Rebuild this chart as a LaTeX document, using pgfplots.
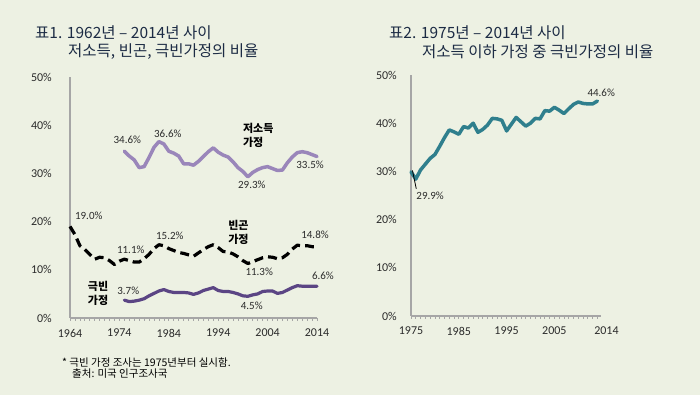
\documentclass[border=0pt]{standalone}
\usepackage{fontspec}
\setmainfont{Carlito}
\newfontfamily\kr{Noto Sans CJK KR}
\usepackage{pgfplots}
\pgfplotsset{compat=1.18}
\definecolor{bg}{HTML}{EDF1E3}
\definecolor{lowc}{HTML}{9A86BA}
\definecolor{deepc}{HTML}{5B4584}
\definecolor{tealc}{HTML}{2F7F8D}
\definecolor{axc}{HTML}{A6A6A6}
\definecolor{titc}{HTML}{1C2B44}
\definecolor{txt}{HTML}{2B2B2B}
\pgfplotsset{
  myaxis/.style={
    scale only axis, clip=false,
    axis lines=left, axis line style={axc, line width=1.2pt, -},
    ymin=0, ymax=50,
    ytick={0,10,20,30,40,50},
    yticklabels={0\%,10\%,20\%,30\%,40\%,50\%},
    ytick style={draw=none},
    tick align=outside,
    major tick length=3pt, minor tick length=3pt,
    xtick style={axc, line width=0.7pt},
    minor tick style={axc, line width=0.7pt},
    /pgf/number format/assume math mode=true,
    /pgf/number format/1000 sep={},
    ticklabel style={font=\fontsize{12}{14}\selectfont, text=txt},
    yticklabel style={anchor=east, inner sep=0pt},
    xticklabel style={anchor=north, inner sep=0pt, yshift=-8pt},
  },
}
\tikzset{
  lab/.style={font=\fontsize{11}{13}\selectfont, text=txt, inner sep=0pt},
  klab/.style={font=\kr\bfseries\fontsize{11}{14}\selectfont, text=black, inner sep=0pt, align=left},
}
\begin{document}
\begin{tikzpicture}[x=1pt,y=1pt]
\fill[bg] (0,0) rectangle (700pt,395pt);
% titles
\node[anchor=west, text=titc, font=\kr\fontsize{15.5}{18}\selectfont, inner sep=0pt] at (35pt,362pt) {표1. 1962년 – 2014년 사이};
\node[anchor=west, text=titc, font=\kr\fontsize{15.5}{18}\selectfont, inner sep=0pt] at (68pt,343pt) {저소득, 빈곤, 극빈가정의 비율};
\node[anchor=west, text=titc, font=\kr\fontsize{15.5}{18}\selectfont, inner sep=0pt] at (389pt,362pt) {표2. 1975년 – 2014년 사이};
\node[anchor=west, text=titc, font=\kr\fontsize{15.5}{18}\selectfont, inner sep=0pt] at (422pt,343pt) {저소득 이하 가정 중 극빈가정의 비율};
% footnote
\node[anchor=west, text=black, font=\kr\fontsize{10.5}{12}\selectfont, inner sep=0pt] at (62pt,32pt) {* 극빈 가정 조사는 1975년부터 실시함.};
\node[anchor=west, text=black, font=\kr\fontsize{10.5}{12}\selectfont, inner sep=0pt] at (72pt,21pt) {출처: 미국 인구조사국};

\begin{axis}[myaxis, at={(70pt,77pt)}, anchor=south west, width=247pt, height=241pt,
  xmin=1964, xmax=2014,
  xtick={1964,1974,1984,1994,2004,2014},
  minor xtick={1964,...,2014},
  yticklabel style={xshift=-15pt}]
% low income
\addplot[lowc, line width=3.5pt, line join=round, line cap=round] coordinates {
(1975,34.6)(1976,33.6)(1977,32.8)(1978,31.2)(1979,31.4)(1980,33.3)(1981,35.4)(1982,36.6)(1983,36.1)(1984,34.6)
(1985,34.2)(1986,33.6)(1987,32.0)(1988,32.0)(1989,31.7)(1990,32.5)(1991,33.5)(1992,34.5)(1993,35.3)(1994,34.4)
(1995,33.8)(1996,33.4)(1997,32.4)(1998,31.2)(1999,30.4)(2000,29.3)(2001,30.2)(2002,30.8)(2003,31.2)(2004,31.4)
(2005,31.0)(2006,30.6)(2007,30.7)(2008,32.2)(2009,33.4)(2010,34.3)(2011,34.5)(2012,34.3)(2013,33.9)(2014,33.5)};
% poverty
\addplot[black, line width=3.2pt, dash pattern=on 9pt off 5pt, line join=round] coordinates {
(1964,19.0)(1965,17.3)(1966,15.0)(1967,14.2)(1968,13.2)(1969,12.2)(1970,12.6)(1971,12.5)(1972,11.9)(1973,11.1)
(1974,11.8)(1975,12.2)(1976,11.9)(1977,11.6)(1978,11.6)(1979,12.3)(1980,13.2)(1981,14.4)(1982,15.2)(1983,15.0)
(1984,14.4)(1985,14.0)(1986,13.6)(1987,13.4)(1988,13.1)(1989,12.8)(1990,13.5)(1991,14.2)(1992,14.8)(1993,15.2)
(1994,14.6)(1995,13.8)(1996,13.7)(1997,13.3)(1998,12.7)(1999,11.9)(2000,11.3)(2001,11.7)(2002,12.1)(2003,12.5)
(2004,12.7)(2005,12.6)(2006,12.3)(2007,12.5)(2008,13.2)(2009,14.3)(2010,15.1)(2011,15.0)(2012,15.0)(2013,14.8)(2014,14.8)};
% deep poverty
\addplot[deepc, line width=3.2pt, line join=round, line cap=round] coordinates {
(1975,3.7)(1976,3.4)(1977,3.5)(1978,3.7)(1979,4.0)(1980,4.6)(1981,5.1)(1982,5.6)(1983,5.9)(1984,5.5)
(1985,5.3)(1986,5.3)(1987,5.3)(1988,5.2)(1989,4.9)(1990,5.2)(1991,5.7)(1992,6.0)(1993,6.3)(1994,5.7)
(1995,5.5)(1996,5.5)(1997,5.3)(1998,5.0)(1999,4.6)(2000,4.5)(2001,4.8)(2002,5.0)(2003,5.5)(2004,5.6)
(2005,5.6)(2006,5.1)(2007,5.3)(2008,5.8)(2009,6.3)(2010,6.7)(2011,6.6)(2012,6.6)(2013,6.6)(2014,6.6)};
\node[lab] at (axis cs:1975.6,36.9) {34.6\%};
\node[lab] at (axis cs:1983.8,38.2) {36.6\%};
\node[lab] at (axis cs:2000.8,27.6) {29.3\%};
\node[lab] at (axis cs:2012.6,31.7) {33.5\%};
\node[lab] at (axis cs:1967.8,21.2) {19.0\%};
\node[lab] at (axis cs:1976.3,14.2) {11.1\%};
\node[lab] at (axis cs:1984.2,17.05) {15.2\%};
\node[lab] at (axis cs:2013.6,17.3) {14.8\%};
\node[lab] at (axis cs:2002.3,9.6) {11.3\%};
\node[lab] at (axis cs:2015.2,8.7) {6.6\%};
\node[lab] at (axis cs:2000.8,2.6) {4.5\%};
\node[lab] at (axis cs:1975.8,5.6) {3.7\%};
\node[klab, anchor=west] at (axis cs:1999.0,37.8) {저소득\\가정};
\node[klab, anchor=west] at (axis cs:1996.0,17.8) {빈곤\\가정};
\node[klab, anchor=west] at (axis cs:1967.6,5.2) {극빈\\가정};
\end{axis}

\begin{axis}[myaxis, at={(411pt,79pt)}, anchor=south west, width=190pt, height=241pt,
  xmin=1975, xmax=2014.75,
  xtick={1975,1985,1995,2005},
  minor xtick={1975,...,2014},
  extra x ticks={2014},
  extra x tick style={xticklabel style={xshift=9pt}},
  yticklabel style={xshift=-11pt}]
\addplot[tealc, line width=3.5pt, line join=round, line cap=round] coordinates {
(1975,29.9)(1976,28.4)(1977,30.3)(1978,31.5)(1979,32.7)(1980,33.5)(1981,35.2)(1982,37.0)(1983,38.6)(1984,38.2)
(1985,37.7)(1986,39.3)(1987,39.0)(1988,40.0)(1989,38.1)(1990,38.7)(1991,39.6)(1992,41.0)(1993,40.9)(1994,40.6)
(1995,38.4)(1996,39.8)(1997,41.2)(1998,40.3)(1999,39.4)(2000,40.0)(2001,41.0)(2002,40.9)(2003,42.6)(2004,42.5)
(2005,43.3)(2006,42.7)(2007,42.0)(2008,43.0)(2009,43.9)(2010,44.4)(2011,44.1)(2012,44.0)(2013,44.0)(2014,44.6)};
\draw[black, line width=0.8pt] (axis cs:1975.3,30.2) -- (axis cs:1976.1,26.4);
\node[lab] at (axis cs:1979.0,24.9) {29.9\%};
\node[lab] at (axis cs:2014.8,46.3) {44.6\%};
\end{axis}
\pgfresetboundingbox
\path (0,0) rectangle (700pt,395pt);
\end{tikzpicture}
\end{document}
